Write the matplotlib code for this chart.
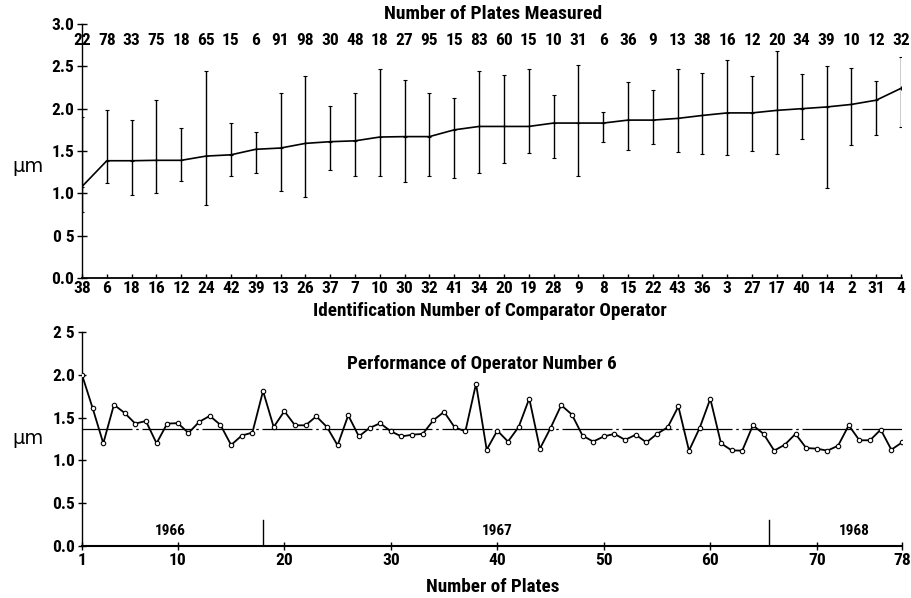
import matplotlib
matplotlib.use("Agg")
import matplotlib.pyplot as plt
import numpy as np

# ---------------- data ----------------
operators = [38, 6, 18, 16, 12, 24, 42, 39, 13, 26, 37, 7, 10, 30, 32, 41, 34,
             20, 19, 28, 9, 8, 15, 22, 43, 36, 3, 27, 17, 40, 14, 2, 31, 4]
plates_measured = [22, 78, 33, 75, 18, 65, 15, 6, 91, 98, 30, 48, 18, 27, 95, 15, 83,
                   60, 15, 10, 31, 6, 36, 9, 13, 38, 16, 12, 20, 34, 39, 10, 12, 32]
mean_um = [1.08, 1.385, 1.385, 1.39, 1.39, 1.44, 1.455, 1.52, 1.535, 1.59, 1.61, 1.62,
           1.665, 1.67, 1.67, 1.75, 1.79, 1.79, 1.79, 1.83, 1.83, 1.83, 1.865, 1.865,
           1.885, 1.92, 1.95, 1.95, 1.98, 2.00, 2.02, 2.05, 2.10, 2.24]
low_um = [0.78, 1.12, 0.98, 1.00, 1.14, 0.86, 1.20, 1.24, 1.03, 0.96, 1.27, 1.20, 1.20,
          1.13, 1.20, 1.18, 1.24, 1.36, 1.48, 1.42, 1.20, 1.61, 1.51, 1.58, 1.49, 1.46,
          1.45, 1.50, 1.46, 1.64, 1.06, 1.57, 1.69, 1.78]
high_um = [1.90, 1.98, 1.87, 2.10, 1.77, 2.44, 1.83, 1.73, 2.18, 2.38, 2.03, 2.18, 2.47,
           2.34, 2.19, 2.13, 2.44, 2.40, 2.47, 2.16, 2.51, 1.96, 2.32, 2.22, 2.47, 2.42,
           2.58, 2.38, 2.68, 2.41, 2.50, 2.48, 2.33, 2.61]

top_yticks = [0.0, 0.5, 1.0, 1.5, 2.0, 2.5, 3.0]
top_yticklabels = ["0.0", "0 5", "1.0", "1.5", "2.0", "2.5", "3.0"]

perf_op6 = [2.00, 1.61, 1.20, 1.65, 1.555, 1.43, 1.46, 1.20, 1.43, 1.435, 1.32, 1.45, 1.52,
            1.415, 1.18, 1.29, 1.325, 1.81, 1.39, 1.575,
            1.41, 1.41, 1.515, 1.39, 1.176, 1.527, 1.28, 1.379, 1.434, 1.34, 1.28, 1.30,
            1.31, 1.47, 1.567, 1.385, 1.34, 1.895, 1.125, 1.348,
            1.22, 1.39, 1.723, 1.137, 1.379, 1.645, 1.536, 1.29, 1.22, 1.28, 1.31, 1.24,
            1.30, 1.21, 1.31, 1.387, 1.63, 1.114, 1.379, 1.72,
            1.20, 1.117, 1.114, 1.41, 1.31, 1.114, 1.184, 1.31, 1.145, 1.137, 1.114, 1.172,
            1.41, 1.235, 1.235, 1.36, 1.125, 1.21]
perf_mean = 1.37
bottom_xticks = [1, 10, 20, 30, 40, 50, 60, 70, 78]
bottom_yticks = [0.0, 0.5, 1.0, 1.5, 2.0, 2.5]
bottom_yticklabels = ["0.0", "0.5", "1.0", "1.5", "2.0", "2 5"]
years = ["1966", "1967", "1968"]
year_label_x = [9.3, 40.0, 73.5]
year_dividers = [18.0, 65.5]

# ---------------- style ----------------
FONT = ["Roboto Condensed", "DejaVu Sans"]
plt.rcParams["font.family"] = FONT
plt.rcParams["font.weight"] = "bold"

W, H = 912, 598
fig = plt.figure(figsize=(W / 100, H / 100), dpi=100)


def fx(px):
    return px / W


def fy(py):
    return 1 - py / H


TICK_FS = 12.5

# ---------------- top panel ----------------
ax1 = fig.add_axes([fx(82), fy(278), fx(901 - 82), fy(24) - fy(278)])
xi = np.arange(len(operators))
mean_arr = np.array(mean_um)
ax1.errorbar(xi, mean_arr,
             yerr=[mean_arr - np.array(low_um), np.array(high_um) - mean_arr],
             fmt="none", ecolor="black", elinewidth=1.0, capsize=1.5, capthick=0.8)
ax1.plot(xi, mean_arr, color="black", lw=1.2, marker="+", ms=3, mew=0.8)
ax1.set_xlim(0, len(operators) - 1)
ax1.set_ylim(0, 3.0)
ax1.set_xticks(xi)
ax1.set_xticklabels([str(o) for o in operators], fontsize=TICK_FS, fontweight="bold")
ax1.set_yticks(top_yticks)
ax1.set_yticklabels(top_yticklabels, fontsize=TICK_FS, fontweight="bold")
for s in ["top", "right"]:
    ax1.spines[s].set_visible(False)
ax1.spines["left"].set_linewidth(1.0)
ax1.spines["bottom"].set_linewidth(1.3)
ax1.tick_params(axis="y", direction="inout", length=7, width=1, pad=2)
ax1.tick_params(axis="x", direction="in", length=3, width=1, pad=2)
ax1.spines["bottom"].set_bounds(0, len(operators) - 1 + 0.05)
for x, n in zip(xi, plates_measured):
    ax1.text(x, 2.81, str(n), ha="center", va="center", fontsize=TICK_FS,
             fontweight="bold", clip_on=False)

fig.text(fx(493), fy(14), "Number of Plates Measured", ha="center", va="center",
         fontsize=14, fontweight="bold")
fig.text(fx(490), fy(311), "Identification Number of Comparator Operator",
         ha="center", va="center", fontsize=13.8, fontweight="bold")
fig.text(fx(28), fy(167), "µm", ha="center", va="center", fontsize=14,
         fontweight="normal", family=["DejaVu Sans"])

# ---------------- bottom panel ----------------
ax2 = fig.add_axes([fx(82), fy(546), fx(902 - 82), fy(332) - fy(546)])
plates = np.arange(1, len(perf_op6) + 1)
ax2.plot(plates, perf_op6, color="black", lw=1.3, marker="o", ms=3.2,
         mfc="white", mec="black", mew=0.8, zorder=3)
ax2.axhline(perf_mean, color="black", lw=0.9, dashes=(40, 3, 2, 3), zorder=2)
ax2.set_xlim(1, 78)
ax2.set_ylim(0, 2.5)
ax2.set_xticks(bottom_xticks)
ax2.set_xticklabels([str(t) for t in bottom_xticks], fontsize=TICK_FS, fontweight="bold")
ax2.set_yticks(bottom_yticks)
ax2.set_yticklabels(bottom_yticklabels, fontsize=TICK_FS, fontweight="bold")
for s in ["top", "right"]:
    ax2.spines[s].set_visible(False)
ax2.spines["bottom"].set_linewidth(1.5)
ax2.spines["left"].set_linewidth(1.0)
ax2.tick_params(axis="both", direction="inout", length=6, width=1, pad=2)
for d in year_dividers:
    ax2.plot([d, d], [0, 0.30], color="black", lw=1.0)
for lab, x in zip(years, year_label_x):
    ax2.text(x, 0.17, lab, ha="center", va="center", fontsize=11, fontweight="bold")

fig.text(fx(482), fy(364), "Performance of Operator Number 6", ha="center",
         va="center", fontsize=13.8, fontweight="bold")
fig.text(fx(493), fy(587), "Number of Plates", ha="center", va="center",
         fontsize=13.8, fontweight="bold")
fig.text(fx(28), fy(438), "µm", ha="center", va="center", fontsize=14,
         fontweight="normal", family=["DejaVu Sans"])

fig.savefig("out.png", dpi=100)
